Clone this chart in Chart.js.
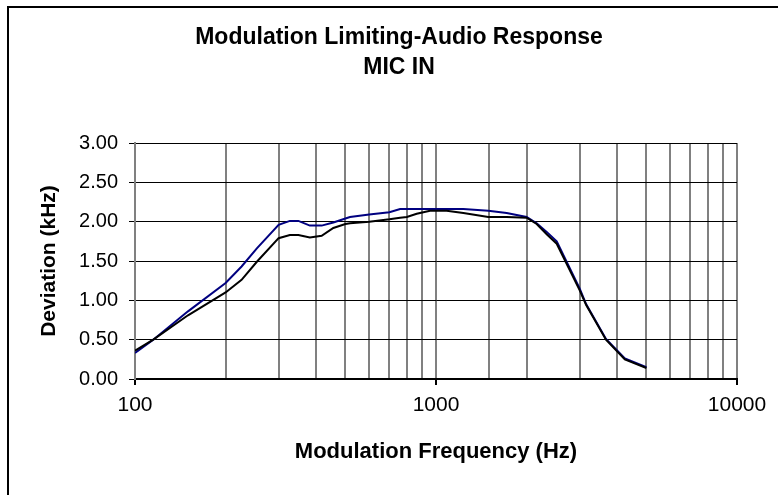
<!DOCTYPE html>
<html lang="en">
<head>
  <meta charset="UTF-8" />
  <title>Modulation Limiting-Audio Response</title>
  <script src="https://cdn.jsdelivr.net/npm/chart.js"></script>
  <style>
    body { margin: 0; background: #fff; }
    #wrap { position: relative; width: 778px; height: 495px; }
  </style>
</head>
<body>
  <div id="wrap"><canvas id="chart"></canvas></div>

  <script>
    // frequencies (Hz) and deviation readings (kHz)
    const freqs = [100, 115, 150, 200, 226, 254, 300, 327, 349, 381, 417, 456, 500, 518, 600, 700, 760, 800, 863, 955,
                   1085, 1233, 1492, 1717, 2000, 2160, 2332, 2518, 3000, 3155, 3670, 4240, 5000];
    const blueDev = [0.33, 0.50, 0.86, 1.22, 1.43, 1.66, 1.96, 2.01, 2.01, 1.95, 1.95, 1.99, 2.04, 2.06, 2.09, 2.12, 2.16, 2.16, 2.16, 2.16,
                     2.16, 2.16, 2.14, 2.11, 2.06, 1.98, 1.87, 1.75, 1.15, 0.95, 0.51, 0.26, 0.15];
    const blackDev = [0.36, 0.50, 0.81, 1.10, 1.26, 1.49, 1.79, 1.83, 1.83, 1.80, 1.82, 1.92, 1.97, 1.98, 2.00, 2.03, 2.05, 2.06, 2.10, 2.14,
                      2.14, 2.11, 2.06, 2.06, 2.05, 1.97, 1.84, 1.72, 1.13, 0.94, 0.50, 0.25, 0.14];
    const xLabels = [100, 1000, 10000];
    const yTicks = [0, 0.5, 1, 1.5, 2, 2.5, 3];

    const toPts = arr => freqs.map((f, i) => ({ x: f, y: arr[i] }));
    const FONT = '"Liberation Sans", Arial, sans-serif';

    // outer frame of the chart (only top and left edges show)
    const frame = {
      id: 'frame',
      afterDraw(chart) {
        const ctx = chart.ctx;
        ctx.save();
        ctx.strokeStyle = '#000';
        ctx.lineWidth = 2;
        ctx.beginPath();
        ctx.moveTo(8, 495);
        ctx.lineTo(8, 7);
        ctx.lineTo(778, 7);
        ctx.stroke();
        ctx.restore();
      }
    };

    new Chart(document.getElementById('chart'), {
      type: 'line',
      data: {
        datasets: [
          { data: toPts(blackDev), borderColor: '#000000', borderWidth: 2, pointRadius: 0, tension: 0 },
          { data: toPts(blueDev), borderColor: '#000080', borderWidth: 2, pointRadius: 0, tension: 0 }
        ]
      },
      options: {
        responsive: true,
        maintainAspectRatio: false,
        animation: false,
        layout: { padding: { left: 61, right: 41, top: 0, bottom: 0 } },
        plugins: {
          legend: { display: false },
          tooltip: { enabled: false },
          title: {
            display: true,
            text: ['Modulation Limiting-Audio Response', 'MIC IN'],
            color: '#000',
            font: { family: FONT, size: 23, weight: 'bold', lineHeight: '30px' },
            padding: { top: 23, bottom: 60 }
          }
        },
        scales: {
          x: {
            type: 'logarithmic',
            min: 100,
            max: 10000,
            afterFit(s) { s.height = 116; },
            border: { color: '#000', width: 2 },
            grid: {
              color: '#808080',
              lineWidth: 2,
              tickLength: 6,
              tickColor: c => xLabels.includes(c.tick && c.tick.value) ? '#000' : 'rgba(0,0,0,0)'
            },
            ticks: {
              autoSkip: false,
              maxRotation: 0,
              padding: 8,
              color: '#000',
              font: { family: FONT, size: 21 },
              callback: v => xLabels.includes(v) ? String(v) : ''
            },
            title: {
              display: true,
              text: 'Modulation Frequency (Hz)',
              color: '#000',
              font: { family: FONT, size: 22, weight: 'bold' },
              padding: { top: 0, bottom: 30 }
            }
          },
          y: {
            min: 0,
            max: 3,
            afterFit(s) { s.width = 74; },
            afterBuildTicks(s) { s.ticks = yTicks.map(v => ({ value: v })); },
            border: { color: '#808080', width: 2 },
            grid: { color: '#000', lineWidth: 1, tickLength: 6, tickColor: '#000' },
            ticks: {
              padding: 11,
              color: '#000',
              font: { family: FONT, size: 20 },
              callback: v => v.toFixed(2)
            },
            title: {
              display: true,
              text: 'Deviation (kHz)',
              color: '#000',
              font: { family: FONT, size: 21, weight: 'bold' },
              padding: { top: -24.6, bottom: 0 }
            }
          }
        }
      },
      plugins: [frame]
    });
  </script>
</body>
</html>
